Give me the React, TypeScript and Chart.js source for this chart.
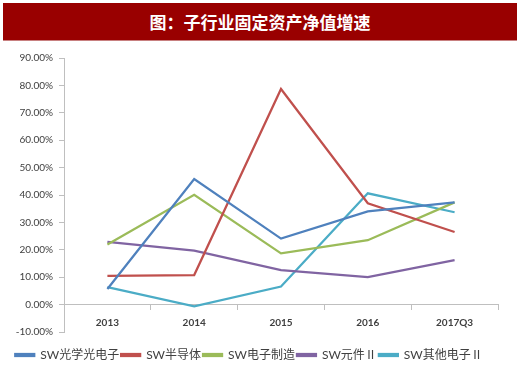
import React, { useEffect, useRef } from "react";
import { Chart, registerables } from "chart.js";

Chart.register(...registerables);

const title = "图：子行业固定资产净值增速";
const categories = ["2013", "2014", "2015", "2016", "2017Q3"];
const seriesNames = ["SW光学光电子", "SW半导体", "SW电子制造", "SW元件Ⅱ", "SW其他电子Ⅱ"];
const optoelectronics = [5.7, 45.8, 24.1, 34.0, 37.3];
const semiconductor = [10.5, 10.8, 78.7, 37.0, 26.5];
const manufacturing = [21.9, 40.1, 18.7, 23.5, 37.3];
const components = [22.9, 19.7, 12.6, 10.0, 16.2];
const otherElectronics = [6.4, -0.6, 6.6, 40.6, 33.7];
const seriesColors = ["#4F81BD", "#C0504D", "#9BBB59", "#8064A2", "#4BACC6"];
const yMin = -10;
const yMax = 90;
const yStep = 10;

const FONT = "Lato, 'Noto Sans CJK SC', sans-serif";

export default function App() {
  const ref = useRef<HTMLCanvasElement | null>(null);
  useEffect(() => {
    document.body.style.margin = "0";
    const values = [optoelectronics, semiconductor, manufacturing, components, otherElectronics];
    const chart = new Chart(ref.current!, {
      type: "line",
      data: {
        labels: categories,
        datasets: values.map((v, i) => ({
          label: seriesNames[i],
          data: v,
          borderColor: seriesColors[i],
          backgroundColor: seriesColors[i],
          borderWidth: 2.25,
          pointRadius: 0,
          tension: 0,
        })),
      },
      options: {
        animation: false,
        responsive: false,
        devicePixelRatio: 1,
        layout: { padding: { top: 58, right: 22, bottom: 0, left: 0 } },
        plugins: {
          tooltip: { enabled: false },
          legend: {
            position: "bottom",
            title: { display: true, text: "", font: { size: 10 }, padding: { top: 3, bottom: 0 } },
            labels: {
              boxWidth: 19,
              boxHeight: 2,
              padding: 2,
              color: "#404040",
              font: { family: FONT, size: 12 },
            },
          },
        },
        scales: {
          x: {
            position: { y: 0 },
            offset: true,
            grid: {
              offset: true,
              drawOnChartArea: false,
              drawTicks: true,
              tickLength: 5,
              color: "#BFBFBF",
            },
            border: { color: "#BFBFBF", width: 1 },
            ticks: {
              color: "#404040",
              padding: 7,
              font: { family: FONT, size: 10, weight: "bold" },
              maxRotation: 0,
            },
          },
          y: {
            min: yMin,
            max: yMax,
            grid: {
              drawOnChartArea: false,
              drawTicks: true,
              tickLength: 5,
              color: "#BFBFBF",
            },
            border: { color: "#BFBFBF", width: 1 },
            ticks: {
              stepSize: yStep,
              padding: 6,
              color: "#404040",
              font: { family: FONT, size: 10 },
              callback: (v: any) => Number(v).toFixed(2) + "%",
            },
            afterFit: (scale: any) => {
              scale.width = 64;
            },
          },
        },
      },
    });
    return () => chart.destroy();
  }, []);

  return (
    <div style={{ position: "relative", width: 520, height: 371, background: "#fff" }}>
      <canvas ref={ref} width={520} height={371} style={{ position: "absolute", left: 0, top: 0 }} />
      <div
        style={{
          position: "absolute",
          left: 3,
          top: 3,
          width: 514,
          height: 37,
          background: "#990000",
          borderBottom: "1px solid #C88080",
          color: "#fff",
          fontFamily: "'Noto Sans CJK SC', sans-serif",
          fontWeight: "bold",
          fontSize: 17,
          lineHeight: "37px",
          textAlign: "center",
        }}
      >
        {title}
      </div>
    </div>
  );
}
